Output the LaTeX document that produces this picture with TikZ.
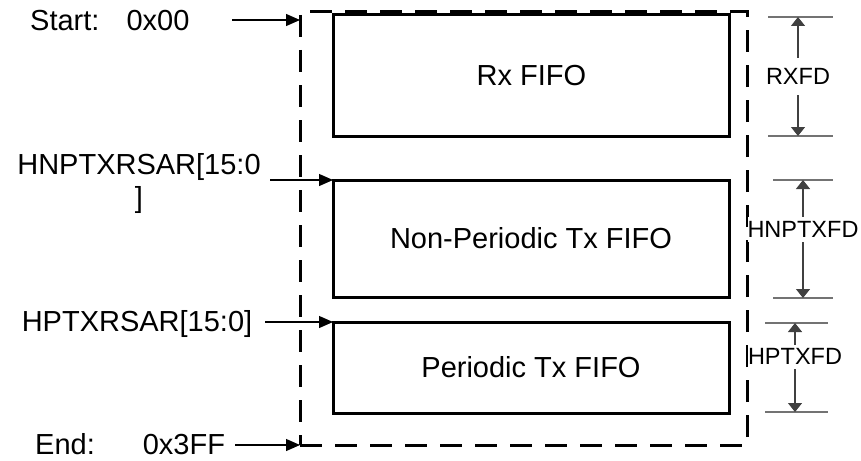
\documentclass[tikz,border=0pt]{standalone}
\usepackage{fontspec}
\setmainfont{Liberation Sans}
\usetikzlibrary{positioning,arrows.meta}

\begin{document}
\begin{tikzpicture}[
    x=1pt, y=-1pt,
    % Stili per i box delle FIFO
    fifobox/.style={
        rectangle,
        draw=black,
        line width=3pt,
        outer sep=0pt,
        text centered,
        minimum width=396pt,
        font=\fontsize{29}{33}\selectfont
    },
    % Stile per la cornice della RAM
    framebox/.style={
        rectangle,
        draw=black,
        line width=3pt,
        outer sep=0pt,
        dash pattern=on 22pt off 13pt,
        minimum width=447pt,
        minimum height=433pt
    },
    % Stili per le frecce
    pointer/.style={-{Triangle[length=14pt, width=12pt]}, line width=1.2pt, color=black},
    dimarrow/.style={{Triangle[length=9pt, width=14pt]}-{Triangle[length=9pt, width=14pt]}, line width=1.2pt, color=black!75},
    tick/.style={line width=1.2pt, color=black!55},
    % Stili per le etichette
    addrlabel/.style={font=\fontsize{29}{33}\selectfont, inner sep=0pt, align=center},
    dimlabel/.style={font=\fontsize{23.5}{26}\selectfont, fill=white, inner xsep=0pt, inner ysep=4pt, text=black}
]
\useasboundingbox (0,0) rectangle (861,460);

% Cornice tratteggiata
\node[framebox] (ram) at (523.5,228.5) {};

% Blocchi FIFO
\node[fifobox, minimum height=121pt] (rxfifo) at (531.5,75.5) {Rx FIFO};
\node[fifobox, minimum height=117pt] (npfifo) at (531,238.5) {Non-Periodic Tx FIFO};
\node[fifobox, minimum height=91pt] (pfifo) at (531,367.5) {Periodic Tx FIFO};

% Etichette degli indirizzi (a sinistra)
\node[addrlabel, anchor=west] (startlbl) at (30,21) {Start:\hspace{27pt}0x00};
\node[addrlabel] (nplbl) at (139,184) {HNPTXRSAR[15:0\\]};
\node[addrlabel] (plbl) at (137,324) {HPTXRSAR[15:0]};
\node[addrlabel, anchor=west] (endlbl) at (35,444) {End:\hspace{48pt}0x3FF};

% Frecce degli indirizzi
\coordinate (startfrom) at (232,20);
\coordinate (npfrom) at ([xshift=-63pt]npfifo.north west);
\coordinate (pfrom) at ([xshift=-68pt]pfifo.north west);
\coordinate (endfrom) at ([xshift=-65pt]ram.south west);
\draw[pointer] (startfrom) -- (startfrom -| ram.west);
\draw[pointer] (npfrom) -- (npfifo.north west);
\draw[pointer] (pfrom) -- (pfifo.north west);
\draw[pointer] (endfrom) -- (ram.south west);

% Quote delle profondita (a destra)
\coordinate (rxtop) at (798,17);
\coordinate (rxbot) at (798,136);
\coordinate (nptop) at (803,180);
\coordinate (npbot) at (803,298);
\coordinate (ptop) at (795,323);
\coordinate (pbot) at (795,412);

\draw[tick] (768,17) -- (833,17);
\draw[tick] (768,136) -- (833,136);
\draw[tick] (773,180) -- (833,180);
\draw[tick] (773,298) -- (833,298);
\draw[tick] (765,323) -- (828,323);
\draw[tick] (765,412) -- (828,412);

\draw[dimarrow] (rxtop) -- node[dimlabel, inner ysep=10pt] (rxfd) {RXFD} (rxbot);
\draw[dimarrow] (nptop) -- node[dimlabel, pos=0.42] (hnptxfd) {HNPTXFD} (npbot);
\draw[dimarrow] (ptop) -- node[dimlabel, pos=0.38] (hptxfd) {HPTXFD} (pbot);

\end{tikzpicture}
\end{document}
